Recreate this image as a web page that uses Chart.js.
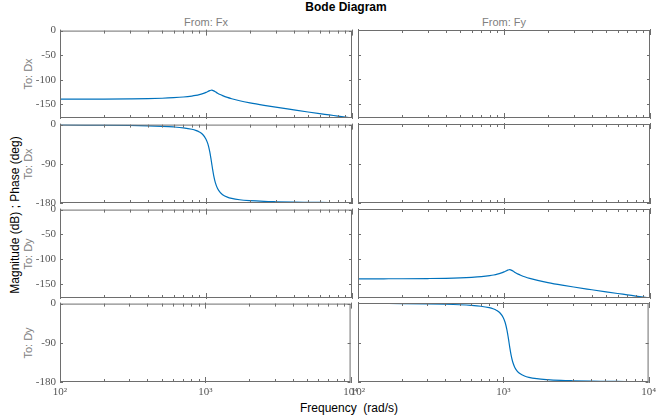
<!DOCTYPE html>
<html>
<head>
<meta charset="utf-8">
<script src="https://cdn.jsdelivr.net/npm/chart.js@4"></script>
<style>
  body { margin: 0; background: #fff; }
  #fig { position: relative; width: 659px; height: 416px; overflow: hidden; font-family: "Liberation Sans", Arial, sans-serif; }
  #fig canvas { position: absolute; }
  .lbl { position: absolute; white-space: nowrap; transform: translate(-50%, -50%); }
  .rot { transform: translate(-50%, -50%) rotate(-90deg); }
  .gray { color: #808080; font-size: 11px; }
</style>
</head>
<body>
<div id="fig">
  <div class="lbl" style="left:346px;top:7px;font-weight:bold;font-size:12px;">Bode Diagram</div>
  <div class="lbl gray" style="left:206px;top:22px;">From: Fx</div>
  <div class="lbl gray" style="left:504px;top:22px;">From: Fy</div>
  <div class="lbl rot gray" style="left:28px;top:74px;">To: Dx</div>
  <div class="lbl rot gray" style="left:28px;top:164px;">To: Dx</div>
  <div class="lbl rot gray" style="left:28px;top:254px;">To: Dy</div>
  <div class="lbl rot gray" style="left:28px;top:343px;">To: Dy</div>
  <div class="lbl rot" style="left:15px;top:215px;font-size:12px;">Magnitude (dB) ; Phase (deg)</div>
  <div class="lbl" style="left:349px;top:408px;font-size:12px;">Frequency &nbsp;(rad/s)</div>
</div>
<script>
// frequency points (rad/s)
const freq = [100, 150, 200, 300, 400, 500, 600, 700, 800, 850,
              900, 950, 1000, 1030, 1060, 1080, 1095, 1110, 1130, 1160,
              1200, 1250, 1300, 1400, 1500, 1700, 2000, 2500, 3000, 4000,
              5000, 6000, 7000, 8000, 10000];

// magnitude (dB), same shape for Fx->Dx and Fy->Dy
const magnitude = [-139.9, -139.8, -139.7, -139.3, -138.8, -138.0, -136.9, -135.5, -133.5, -132.2,
                   -130.6, -128.6, -126.0, -124.2, -122.4, -121.7, -121.6, -121.9, -122.9, -124.9,
                   -127.6, -130.4, -132.7, -136.3, -139.0, -143.1, -147.4, -152.5, -156.3, -161.8,
                   -166.0, -169.3, -172.0, -174.4, -178.3];

// phase (deg)
const phase = [-0.6, -1.0, -1.3, -2.0, -2.9, -4.0, -5.4, -7.4, -10.7, -13.2,
               -16.9, -22.8, -33.4, -44.4, -61.6, -77.1, -90.0, -102.8, -117.7, -133.9,
               -146.8, -155.7, -160.8, -166.4, -169.4, -172.5, -174.6, -176.3, -177.1, -178.0,
               -178.4, -178.7, -178.9, -179.0, -179.2];

const magTicks = [0, -50, -100, -150];
const phaseTicks = [0, -90, -180];
const freqMajor = [100, 1000, 10000];
const freqMinor = [200, 300, 400, 500, 600, 700, 800, 900, 2000, 3000, 4000, 5000, 6000, 7000, 8000, 9000];
const freqLabels = { 100: '10²', 1000: '10³', 10000: '10⁴' };

const magRange = [-178.3, 0];
const phaseRange = [-180, 0];

// panel placement
const colX = [[60, 352], [358, 650]];
const rowY = [[30, 118], [124, 203], [209, 298], [303, 382]];

const lineColor = '#0072BD';
const frameColor = '#6e6e6e';
const tickFont = { family: '"Liberation Serif", "DejaVu Serif", serif', size: 11 };

function makeFrame(yTicks) {
    return {
        id: 'frame',
        afterDraw(chart) {
            const ctx = chart.ctx;
            const a = chart.chartArea;
            const x = chart.scales.x;
            const y = chart.scales.y;
            ctx.save();
            ctx.strokeStyle = frameColor;
            ctx.lineWidth = 1;
            ctx.beginPath();
            yTicks.forEach(v => {
                const py = Math.round(y.getPixelForValue(v)) + 0.5;
                ctx.moveTo(a.left, py); ctx.lineTo(a.left + 3, py);
                ctx.moveTo(a.right, py); ctx.lineTo(a.right - 3, py);
            });
            freqMinor.forEach(v => {
                const px = Math.round(x.getPixelForValue(v)) + 0.5;
                ctx.moveTo(px, a.top); ctx.lineTo(px, a.top + 3);
                ctx.moveTo(px, a.bottom); ctx.lineTo(px, a.bottom - 3);
            });
            freqMajor.forEach(v => {
                const px = Math.round(x.getPixelForValue(v)) + 0.5;
                ctx.moveTo(px, a.top - 1); ctx.lineTo(px, a.top + 5);
                ctx.moveTo(px, a.bottom + 1); ctx.lineTo(px, a.bottom - 5);
            });
            ctx.stroke();
            ctx.strokeRect(a.left + 0.5, a.top + 0.5, a.width - 1, a.height - 1);
            ctx.restore();
        }
    };
}

function makePanel(row, col) {
    const isMag = row % 2 === 0;
    const hasData = (row < 2 && col === 0) || (row >= 2 && col === 1);
    const isBottom = row === 3;
    const isLeft = col === 0;
    const values = isMag ? magnitude : phase;
    const range = isMag ? magRange : phaseRange;
    const yTicks = isMag ? magTicks : phaseTicks;

    // the axes keep their fitted size even when hidden, so they provide the left/bottom margin
    const padL = 60, padT = 10, padR = 10, padB = 26;
    const [x0, x1] = colX[col];
    const [y0, y1] = rowY[row];

    const canvas = document.createElement('canvas');
    canvas.width = (x1 - x0) + padL + padR;
    canvas.height = (y1 - y0) + padT + padB;
    canvas.style.left = (x0 - padL) + 'px';
    canvas.style.top = (y0 - padT) + 'px';
    document.getElementById('fig').appendChild(canvas);

    const datasets = hasData ? [{
        data: freq.map((f, i) => ({ x: f, y: values[i] })),
        borderColor: lineColor,
        borderWidth: 1.2,
        pointRadius: 0,
        cubicInterpolationMode: 'monotone',
        fill: false
    }] : [];

    return new Chart(canvas, {
        type: 'line',
        data: { datasets: datasets },
        options: {
            responsive: false,
            animation: false,
            devicePixelRatio: 1,
            layout: {
                padding: { left: 0, top: padT, right: padR, bottom: 0 }
            },
            plugins: { legend: { display: false }, tooltip: { enabled: false } },
            scales: {
                x: {
                    type: 'logarithmic',
                    min: 100,
                    max: 10000,
                    display: isBottom,
                    grid: { display: false, drawTicks: false },
                    border: { display: false },
                    afterBuildTicks: s => { s.ticks = freqMajor.map(v => ({ value: v })); },
                    afterFit: s => { s.height = padB; },
                    ticks: {
                        autoSkip: false,
                        maxRotation: 0,
                        padding: 4,
                        color: '#555',
                        font: tickFont,
                        callback: v => freqLabels[v] || ''
                    }
                },
                y: {
                    type: 'linear',
                    min: range[0],
                    max: range[1],
                    display: isLeft,
                    grid: { display: false, drawTicks: false },
                    border: { display: false },
                    afterBuildTicks: s => { s.ticks = yTicks.map(v => ({ value: v })); },
                    afterFit: s => { s.width = padL; },
                    ticks: {
                        autoSkip: false,
                        padding: 4,
                        color: '#555',
                        font: tickFont,
                        callback: v => String(v)
                    }
                }
            }
        },
        plugins: [makeFrame(yTicks)]
    });
}

for (let r = 0; r < 4; r++) {
    for (let c = 0; c < 2; c++) {
        makePanel(r, c);
    }
}
</script>
</body>
</html>
